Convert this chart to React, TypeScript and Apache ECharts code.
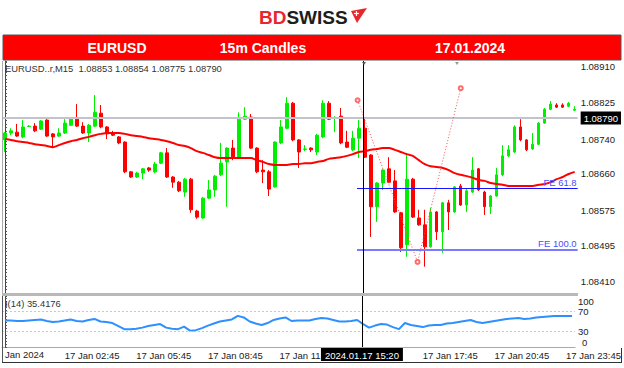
import React, { useEffect, useRef } from 'react';
import * as echarts from 'echarts';

const FONT = "'Liberation Sans', Arial, sans-serif";

// 15-minute bar times (first visible bar 00:15)
const times: string[] = [];
for (let k = 1; k <= 96; k++) {
  const m = k * 15;
  const hh = Math.floor(m / 60) % 24;
  const mm = m % 60;
  times.push(`${String(hh).padStart(2, '0')}:${String(mm).padStart(2, '0')}`);
}

const open = [
  1.08739, 1.08755, 1.08757, 1.08746, 1.0877, 1.08771, 1.08764, 1.08785, 1.08753, 1.08748,
  1.08755, 1.08773, 1.08787, 1.08771, 1.08755, 1.08771, 1.08801, 1.08769, 1.08755, 1.08746,
  1.08734, 1.08665, 1.08653, 1.08662, 1.08674, 1.08665, 1.08685, 1.08709, 1.08653, 1.08641,
  1.08618, 1.08648, 1.08574, 1.08558, 1.08604, 1.08623, 1.08658, 1.08688, 1.0872, 1.08699,
  1.08787, 1.08792, 1.0872, 1.08669, 1.08665, 1.0863, 1.08732, 1.08766, 1.08824, 1.08739,
  1.08717, 1.0872, 1.08711, 1.08746, 1.08824, 1.08789, 1.08794, 1.08734, 1.08716, 1.08743,
  1.08766, 1.08704, 1.08584, 1.08639, 1.08672, 1.08644, 1.0857, 1.08496, 1.08648, 1.08558,
  1.08542, 1.08491, 1.08572, 1.08526, 1.08593, 1.08572, 1.08632, 1.08588, 1.08618, 1.08672,
  1.08618, 1.08584, 1.08609, 1.08658, 1.08702, 1.08711, 1.08769, 1.08739, 1.08718, 1.08729,
  1.08778, 1.0881, 1.0882, 1.0882, 1.08817, 1.08808,
];
const close = [
  1.08755, 1.0876, 1.08748, 1.08769, 1.08771, 1.0876, 1.08783, 1.08748, 1.08746, 1.08755,
  1.08778, 1.08787, 1.08771, 1.08755, 1.08773, 1.08803, 1.08769, 1.08753, 1.0875, 1.08732,
  1.08665, 1.08653, 1.08662, 1.08672, 1.08669, 1.08683, 1.08709, 1.08653, 1.08641, 1.08621,
  1.08648, 1.08577, 1.0856, 1.08604, 1.08623, 1.08655, 1.08685, 1.0872, 1.08697, 1.08787,
  1.08794, 1.0872, 1.08665, 1.08665, 1.08625, 1.08734, 1.08769, 1.08824, 1.08739, 1.08711,
  1.08718, 1.08716, 1.0875, 1.08824, 1.08787, 1.0879, 1.08732, 1.08722, 1.08743, 1.08766,
  1.08699, 1.08584, 1.08639, 1.08669, 1.08641, 1.08572, 1.08489, 1.08648, 1.0856, 1.08542,
  1.08491, 1.08572, 1.08526, 1.08593, 1.08572, 1.0863, 1.08588, 1.08621, 1.08669, 1.08623,
  1.08584, 1.08609, 1.08658, 1.08702, 1.08716, 1.08769, 1.08739, 1.08716, 1.08729, 1.08778,
  1.0881, 1.08822, 1.08815, 1.08815, 1.08824, 1.0881,
];
const high = [
  1.08757, 1.08766, 1.08776, 1.08785, 1.08773, 1.08778, 1.08785, 1.08787, 1.08755, 1.08766,
  1.08787, 1.0879, 1.08822, 1.0878, 1.08776, 1.08843, 1.0882, 1.08771, 1.0876, 1.08748,
  1.08736, 1.08667, 1.08665, 1.08674, 1.08676, 1.08688, 1.08711, 1.0872, 1.08655, 1.08644,
  1.08651, 1.08651, 1.08577, 1.08607, 1.08646, 1.08658, 1.08732, 1.08722, 1.08739, 1.08803,
  1.08815, 1.08799, 1.08722, 1.08692, 1.08669, 1.08736, 1.08785, 1.08838, 1.08827, 1.08741,
  1.08727, 1.08722, 1.08753, 1.08831, 1.08829, 1.08794, 1.08813, 1.0876, 1.0876, 1.08785,
  1.0879, 1.08706, 1.08641, 1.08672, 1.08699, 1.08669, 1.08572, 1.08709, 1.08651, 1.08577,
  1.08577, 1.08581, 1.08574, 1.08595, 1.086, 1.08632, 1.08637, 1.08625, 1.08699, 1.08674,
  1.08621, 1.08611, 1.08674, 1.08727, 1.08727, 1.08773, 1.08787, 1.08741, 1.08755, 1.0878,
  1.08813, 1.08829, 1.08824, 1.08824, 1.08827, 1.08817,
];
const low = [
  1.08711, 1.0875, 1.08746, 1.08743, 1.08769, 1.08757, 1.08762, 1.08746, 1.08722, 1.08746,
  1.08753, 1.08771, 1.08769, 1.08753, 1.08734, 1.08769, 1.08766, 1.08741, 1.08748, 1.08729,
  1.08662, 1.08651, 1.08651, 1.08648, 1.08665, 1.08662, 1.08683, 1.08651, 1.08628, 1.08618,
  1.08607, 1.0857, 1.08556, 1.08556, 1.08602, 1.08607, 1.08655, 1.08584, 1.08692, 1.08697,
  1.08785, 1.08718, 1.08662, 1.08639, 1.08609, 1.08628, 1.08729, 1.08764, 1.08736, 1.08674,
  1.08713, 1.08711, 1.08704, 1.08743, 1.08785, 1.08757, 1.08729, 1.0872, 1.08713, 1.08697,
  1.08697, 1.08514, 1.08549, 1.08623, 1.08639, 1.0857, 1.08479, 1.08468, 1.08558, 1.0854,
  1.08445, 1.08489, 1.08507, 1.08477, 1.0853, 1.0857, 1.08586, 1.08572, 1.08616, 1.08621,
  1.08565, 1.08567, 1.08607, 1.08655, 1.08699, 1.08709, 1.08736, 1.08713, 1.08716, 1.08727,
  1.08776, 1.08808, 1.08813, 1.08813, 1.08815, 1.08806,
];
const ma = [
  1.08741, 1.08739, 1.08736, 1.08734, 1.08732, 1.08729, 1.08727, 1.08725, 1.08722, 1.08727,
  1.08732, 1.08736, 1.08739, 1.08743, 1.08746, 1.0875, 1.08753, 1.08755, 1.08755, 1.08755,
  1.08753, 1.0875, 1.08748, 1.08746, 1.08743, 1.08741, 1.08739, 1.08736, 1.08732, 1.08727,
  1.08725, 1.0872, 1.08713, 1.08709, 1.08704, 1.08699, 1.08697, 1.08697, 1.08697, 1.08697,
  1.08697, 1.08697, 1.08692, 1.08688, 1.08683, 1.08681, 1.08681, 1.08681, 1.08683, 1.08683,
  1.08685, 1.08685, 1.08688, 1.0869, 1.08695, 1.08697, 1.08699, 1.08702, 1.08706, 1.08711,
  1.08713, 1.08716, 1.08718, 1.0872, 1.0872, 1.08716, 1.08711, 1.08706, 1.08702, 1.08692,
  1.08683, 1.08678, 1.08676, 1.08674, 1.08669, 1.08662, 1.08658, 1.08655, 1.08651, 1.08646,
  1.08644, 1.08639, 1.08637, 1.08635, 1.08632, 1.08632, 1.08632, 1.08632, 1.08632, 1.08635,
  1.08637, 1.08641, 1.08648, 1.08653, 1.0866, 1.08665,
];
const indicator = [
  52, 52, 51, 51, 52, 53, 54, 51, 49, 50, 52, 54, 51, 50, 53, 55, 50, 49, 47, 41,
  35, 35, 36, 38, 41, 43, 45, 38, 36, 35, 40, 32, 33, 37, 42, 46, 50, 52, 54, 61,
  58, 50, 46, 43, 47, 53, 56, 58, 51, 52, 52, 52, 55, 57, 56, 53, 50, 50, 51, 53,
  45, 38, 42, 45, 44, 39, 35, 47, 43, 41, 39, 42, 43, 43, 46, 47, 49, 51, 53, 49,
  47, 49, 51, 53, 55, 56, 57, 55, 56, 58, 59, 60, 61, 61, 61, 61,
];

const priceTicks = [1.0891, 1.08825, 1.0874, 1.0866, 1.08575, 1.08495, 1.0841];
const priceLevel = 1.0879;
const indicatorTicks = [0, 30, 70, 100];
const indicatorLevels = [70, 30];
// time-axis labels: bar index -> text shown
const timeLabelBars = [10, 22, 34, 46, 70, 82, 94];
const cutLabelBar = 46; // partly hidden behind the crosshair date box
// Fibonacci expansion drawing: [bar position, price]
const fibPoints = [
  [58.8, 1.08831],
  [68.8, 1.08456],
  [76.0, 1.08859],
];
const feStart = 58.7;
const fe618 = 1.08627;
const fe100 = 1.08485;
const crossBar = 59.8;
const crossLabel = '2024.01.17 15:20';
const infoText = 'EURUSD..r,M15  1.08853 1.08854 1.08775 1.08790';
const indText = 'I(14) 35.4176';

export default function App() {
  const ref = useRef<HTMLDivElement>(null);
  useEffect(() => {
    if (!ref.current) return;
    const chart = echarts.init(ref.current, undefined, { renderer: 'svg' });
    const axisText = { fontFamily: FONT, fontSize: 9.5, color: '#222' };
    const indMin = indicatorTicks[0];
    const option: any = {
      animation: false,
      backgroundColor: '#ffffff',
      textStyle: { fontFamily: FONT },
      grid: [
        { left: 2, right: 46, top: 61, height: 232 },
        { left: 2, right: 46, top: 296, height: 51 },
      ],
      xAxis: [
        {
          type: 'category', gridIndex: 0, data: times, boundaryGap: true,
          axisLine: { show: false }, axisTick: { show: false }, axisLabel: { show: false }, splitLine: { show: false },
        },
        { type: 'value', gridIndex: 0, min: -0.5, max: 95.5, show: false },
        {
          type: 'category', gridIndex: 1, data: times, boundaryGap: true,
          axisLine: { show: true, lineStyle: { color: '#aaaaaa', width: 1 } },
          axisTick: { show: false },
          splitLine: { show: false },
          axisLabel: {
            ...axisText,
            margin: 3,
            align: 'left',
            interval: (idx: number) => timeLabelBars.includes(idx),
            formatter: (v: string, idx: number) =>
              idx === cutLabelBar ? `17 Jan ${v.slice(0, 3)}` : `17 Jan ${v}`,
          },
        },
        { type: 'value', gridIndex: 1, min: -0.5, max: 95.5, show: false },
      ],
      yAxis: [
        {
          type: 'value', gridIndex: 0, position: 'right', scale: true,
          min: 1.08384, max: 1.08922, interval: 0.00008,
          axisLine: { show: true, lineStyle: { color: '#444', width: 1 } },
          axisTick: { show: true, length: 2, lineStyle: { color: '#555' } },
          splitLine: { show: false },
          axisLabel: {
            ...axisText,
            margin: 3,
            customValues: [...priceTicks, priceLevel],
            formatter: (v: number) =>
              Math.abs(v - priceLevel) < 1e-9 ? `{cur|${v.toFixed(5)}}` : v.toFixed(5),
            rich: {
              cur: {
                backgroundColor: '#000', color: '#fff', fontFamily: FONT, fontSize: 9.5,
                padding: [2, 3, 1, 3],
              },
            },
          },
        },
        {
          type: 'value', gridIndex: 1, position: 'right', min: 0, max: 100, interval: 6,
          axisLine: { show: true, lineStyle: { color: '#444', width: 1 } },
          axisTick: { show: true, length: 2, lineStyle: { color: '#555' } },
          splitLine: { show: false },
          axisLabel: {
            ...axisText,
            margin: 3,
            showMaxLabel: true,
            customValues: indicatorTicks.filter((v) => v !== indMin),
            formatter: (v: number) => (v === 100 ? `{hi|${v}}` : `${v}`),
            rich: {
              hi: { fontFamily: FONT, fontSize: 9.5, color: '#222', padding: [11, 0, 0, 0] },
            },
          },
        },
      ],
      series: [
        {
          type: 'line', xAxisIndex: 1, yAxisIndex: 0,
          data: [[-0.5, priceLevel], [95.5, priceLevel]],
          symbol: 'none', silent: true,
          lineStyle: { color: '#c3c3cb', width: 2 },
        },
        {
          type: 'candlestick', xAxisIndex: 0, yAxisIndex: 0, barWidth: 3,
          data: open.map((o, i) => [o, close[i], low[i], high[i]]),
          itemStyle: {
            color: '#00ee00', color0: '#ff0000',
            borderColor: '#00ee00', borderColor0: '#ff0000', borderWidth: 1,
          },
        },
        {
          type: 'line', xAxisIndex: 0, yAxisIndex: 0, data: ma, smooth: 0.3,
          symbol: 'none', lineStyle: { color: '#ff0000', width: 2 },
        },
        {
          type: 'line', xAxisIndex: 1, yAxisIndex: 0, data: fibPoints,
          symbol: 'emptyCircle', symbolSize: 4, showSymbol: true,
          itemStyle: { color: '#ff6a6a', borderWidth: 1 },
          lineStyle: { color: '#ff4d4d', width: 1, type: [1, 2] },
          markLine: {
            symbol: 'none', silent: true, animation: false,
            label: { position: 'insideEndTop', color: '#4b4bff', fontFamily: FONT, fontSize: 9.5, distance: 1 },
            data: [
              [
                { coord: [feStart, fe618], lineStyle: { color: '#1414ff', width: 1, type: 'solid' }, label: { formatter: 'FE 61.8' } },
                { coord: [95.5, fe618] },
              ],
              [
                { coord: [feStart, fe100], lineStyle: { color: '#7b7bff', width: 2, type: 'solid' }, label: { formatter: 'FE 100.0' } },
                { coord: [95.5, fe100] },
              ],
              { xAxis: crossBar, lineStyle: { color: '#000', width: 1, type: 'solid' }, label: { show: false } },
            ],
          },
        },
        {
          type: 'line', xAxisIndex: 3, yAxisIndex: 1,
          data: indicator.map((v, i) => [i, v]),
          symbol: 'none', lineStyle: { color: '#2e90ff', width: 2 },
          markLine: {
            symbol: 'none', silent: true, animation: false,
            data: [
              ...indicatorLevels.map((lv) => ({
                yAxis: lv, lineStyle: { color: '#c8c8c8', width: 1, type: [2, 2] }, label: { show: false },
              })),
              {
                xAxis: crossBar,
                lineStyle: { color: '#000', width: 1, type: 'solid' },
                label: {
                  show: true, position: 'start', formatter: crossLabel, distance: 1,
                  backgroundColor: '#000', color: '#fff', fontFamily: FONT, fontSize: 9.5,
                  padding: [2, 4, 1, 4],
                },
              },
            ],
          },
        },
      ],
      graphic: [
        {
          type: 'text', x: 259, y: 17, z: 100,
          style: {
            text: '{a|BD}{b|SWISS}', verticalAlign: 'middle',
            rich: {
              a: { fill: '#e8262d', fontFamily: FONT, fontSize: 19, fontWeight: 'bold' },
              b: { fill: '#1d1d1b', fontFamily: FONT, fontSize: 19, fontWeight: 'bold' },
            },
          },
        },
        {
          type: 'polygon', z: 100,
          shape: { points: [[351, 11], [367, 8], [357, 23]] },
          style: { fill: '#e8262d' },
        },
        { type: 'line', z: 101, shape: { x1: 354, y1: 13.5, x2: 359, y2: 13.5 }, style: { stroke: '#fff', lineWidth: 1.2 } },
        { type: 'line', z: 101, shape: { x1: 356.5, y1: 11, x2: 356.5, y2: 16 }, style: { stroke: '#fff', lineWidth: 1.2 } },
        {
          type: 'rect', z: 100,
          shape: { x: 3, y: 35, width: 618, height: 25 },
          style: { fill: '#ff0000', stroke: '#555', lineWidth: 1 },
        },
        { type: 'text', z: 101, x: 117, y: 47.5, style: { text: 'EURUSD', fill: '#fff', fontFamily: FONT, fontSize: 14, fontWeight: 'bold', align: 'center', verticalAlign: 'middle' } },
        { type: 'text', z: 101, x: 263, y: 47.5, style: { text: '15m Candles', fill: '#fff', fontFamily: FONT, fontSize: 14, fontWeight: 'bold', align: 'center', verticalAlign: 'middle' } },
        { type: 'text', z: 101, x: 470, y: 47.5, style: { text: '17.01.2024', fill: '#fff', fontFamily: FONT, fontSize: 14, fontWeight: 'bold', align: 'center', verticalAlign: 'middle' } },
        { type: 'text', z: 100, x: 5, y: 68, style: { text: infoText, fill: '#333', fontFamily: FONT, fontSize: 9.4, verticalAlign: 'middle' } },
        { type: 'text', z: 100, x: 5, y: 303, style: { text: indText, fill: '#333', fontFamily: FONT, fontSize: 9.4, verticalAlign: 'middle' } },
        { type: 'text', z: 100, x: 582, y: 342, style: { text: `${indMin}`, fill: '#222', fontFamily: FONT, fontSize: 9.5, verticalAlign: 'middle' } },
        {
          type: 'rect', z: 90,
          shape: { x: 2, y: 293, width: 576, height: 3 },
          style: { fill: '#b8b8b8' },
        },
        {
          type: 'polygon', z: 100,
          shape: { points: [[362, 62], [366, 62], [364, 65]] },
          style: { fill: '#555' },
        },
        {
          type: 'polygon', z: 100,
          shape: { points: [[455, 62], [459, 62], [457, 65]] },
          style: { fill: '#999' },
        },
        { type: 'line', z: 100, shape: { x1: 2.5, y1: 61, x2: 2.5, y2: 293 }, style: { stroke: '#aaa', lineWidth: 1 } },
        { type: 'line', z: 100, shape: { x1: 2.5, y1: 296, x2: 2.5, y2: 362 }, style: { stroke: '#555', lineWidth: 1 } },
        { type: 'line', z: 100, shape: { x1: 2, y1: 362.5, x2: 622, y2: 362.5 }, style: { stroke: '#333', lineWidth: 1 } },
        { type: 'line', z: 100, shape: { x1: 621.5, y1: 348, x2: 621.5, y2: 362 }, style: { stroke: '#333', lineWidth: 1 } },
        { type: 'text', z: 100, x: 5, y: 354, style: { text: 'Jan 2024', fill: '#222', fontFamily: FONT, fontSize: 9.5, verticalAlign: 'middle' } },
      ],
    };
    chart.setOption(option);
    return () => chart.dispose();
  }, []);
  return (
    <div
      ref={ref}
      style={{ position: 'absolute', left: 0, top: 0, width: 624, height: 368, background: '#fff' }}
    />
  );
}
